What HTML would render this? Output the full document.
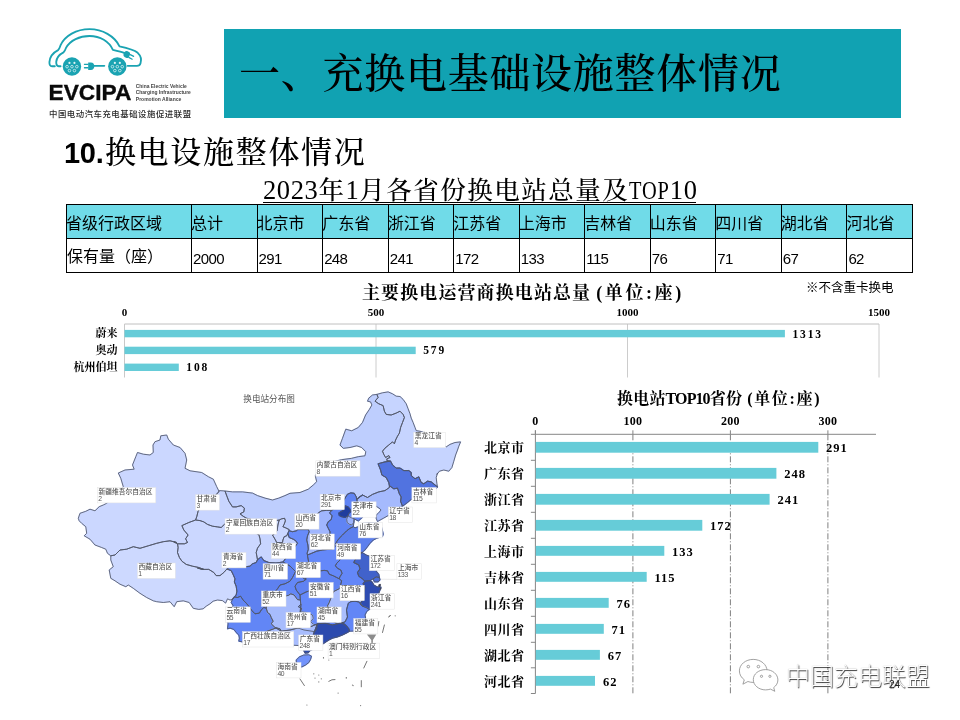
<!DOCTYPE html>
<html lang="zh-CN">
<head>
<meta charset="utf-8">
<title>一、充换电基础设施整体情况</title>
<style>
*{margin:0;padding:0;box-sizing:border-box}
html,body{width:960px;height:720px;background:#fff;overflow:hidden}
body{position:relative;font-family:"Liberation Sans","Noto Sans CJK SC",sans-serif;color:#000}
.abs{position:absolute;white-space:nowrap;line-height:1}
.serif{font-family:"Liberation Serif","Noto Serif CJK SC",serif}
.sans{font-family:"Liberation Sans","Noto Sans CJK SC",sans-serif}
#banner{left:224px;top:29px;width:677px;height:89px;background:#11a2b2}
#title{left:239px;top:54px;font-size:41px;letter-spacing:0.73px;line-height:41px;font-weight:500}
#sub{left:64px;top:135px;font-size:31px;line-height:36px;letter-spacing:1.7px;font-weight:500}
#sub b{font-family:"Liberation Sans",sans-serif;font-weight:700;letter-spacing:-0.3px;font-size:29px;margin-right:1.5px}
#ttitle{left:263px;top:177px;font-size:25.5px;line-height:27px;letter-spacing:1.5px;font-weight:500;height:26px;border-bottom:1px solid #000;width:433px;overflow:visible}
#ttitle span.u{display:inline-block}
#ttitle em{font-style:normal;font-size:26.5px;letter-spacing:0.6px}
#ttitle i{font-style:normal;display:inline-block;transform:scaleX(.8);transform-origin:0 50%;margin-right:-10.2px;letter-spacing:1px}
table{position:absolute;left:66px;top:204px;border-collapse:separate;border-spacing:0;table-layout:fixed;width:847px;border-right:1px solid #000;border-bottom:1px solid #000}
td{border-left:1px solid #000;border-top:1px solid #000;height:34px;font-size:16px;font-weight:400;padding:4px 0 0 0;vertical-align:middle;white-space:nowrap;overflow:hidden;line-height:20px;text-indent:-1px}
tr.h td{background:#70dbe8}
tr.d td{font-size:15px;letter-spacing:-0.6px;padding-left:1px;padding-top:7px;text-indent:0;font-weight:400}
tr.d td:first-child{font-size:16px;letter-spacing:0;padding-top:3px;padding-left:0;text-indent:0}
#note{left:806px;top:281px;font-size:12.5px;line-height:14px}
#c1title{left:362px;top:283px;font-size:18px;font-weight:700;line-height:20px;letter-spacing:1.1px}
#c1title span{letter-spacing:2.6px;margin-left:5px}
#c2title span{letter-spacing:1.7px;margin-left:5px}
#c2title i{font-style:normal;letter-spacing:-0.9px}
#c2title{left:617px;top:389px;font-size:16px;font-weight:700;line-height:20px;letter-spacing:0.2px}
svg text{font-family:"Liberation Serif","Noto Serif CJK SC",serif;font-weight:700}
svg text.ml{font-family:"Liberation Sans","Noto Sans CJK SC",sans-serif;font-weight:500;font-size:6.75px;fill:#555}
#logo text{font-family:"Liberation Sans","Noto Sans CJK SC",sans-serif}
#wm{left:786px;top:661px;font-size:24px;font-weight:300;line-height:32px;color:#fff;letter-spacing:0px;text-shadow:0.8px 0.8px 0.8px rgba(0,0,0,.75),0 0 1px rgba(0,0,0,.35)}
#pg{left:889px;top:680px;font-size:10px;color:#222}
</style>
</head>
<body>
<!-- LOGO -->
<svg id="logo" class="abs" style="left:40px;top:24px" width="160" height="100" viewBox="40 24 160 100">
<g transform="translate(44,24) scale(0.108333)">
<g fill="none" stroke="#1aa3b2" stroke-width="17" stroke-linecap="round" stroke-linejoin="round">
<path d="M100,390 L74,390 C56,390 49,375 50,352 C53,300 90,262 130,241 C141,234 146,215 152,198 C192,108 300,48 420,48 C540,48 650,110 697,206 C760,219 830,236 865,266 C890,290 901,330 891,362 C886,380 875,386 858,386 L772,386"/>
<path d="M153,390 L136,390 C119,390 112,372 113,350 C116,310 145,280 180,262 C191,255 196,240 203,221 C240,150 330,111 420,111 C520,111 600,160 636,238 C680,248 715,256 745,268"/>
<path d="M462,386 L558,386" stroke-width="15"/>
</g>
<circle cx="258" cy="393" r="85" fill="#1aa3b2"/>
<circle cx="235" cy="359" r="10" fill="#dff3f5"/>
<circle cx="281" cy="359" r="10" fill="#dff3f5"/>
<circle cx="213" cy="394" r="12" fill="none" stroke="#dff3f5" stroke-width="7"/>
<circle cx="258" cy="394" r="12" fill="none" stroke="#dff3f5" stroke-width="7"/>
<circle cx="303" cy="394" r="12" fill="none" stroke="#dff3f5" stroke-width="7"/>
<circle cx="235" cy="430" r="12" fill="none" stroke="#dff3f5" stroke-width="7"/>
<circle cx="281" cy="430" r="12" fill="none" stroke="#dff3f5" stroke-width="7"/>
<circle cx="677" cy="393" r="85" fill="#1aa3b2"/>
<circle cx="654" cy="359" r="10" fill="#dff3f5"/>
<circle cx="700" cy="359" r="10" fill="#dff3f5"/>
<circle cx="632" cy="394" r="12" fill="none" stroke="#dff3f5" stroke-width="7"/>
<circle cx="677" cy="394" r="12" fill="none" stroke="#dff3f5" stroke-width="7"/>
<circle cx="722" cy="394" r="12" fill="none" stroke="#dff3f5" stroke-width="7"/>
<circle cx="654" cy="430" r="12" fill="none" stroke="#dff3f5" stroke-width="7"/>
<circle cx="700" cy="430" r="12" fill="none" stroke="#dff3f5" stroke-width="7"/>
<path d="M408,356 L432,356 C455,356 464,372 464,390 C464,408 455,424 432,424 L408,424 Z" fill="#1aa3b2"/>
<rect x="368" y="366" width="44" height="12" rx="4" fill="#1aa3b2"/>
<rect x="368" y="398" width="44" height="12" rx="4" fill="#1aa3b2"/>
<g transform="translate(768,284) rotate(28)" fill="#1aa3b2"><path d="M-8,-30 L4,-30 C20,-30 24,-14 24,0 C24,14 20,30 4,30 L-8,30 C-28,30 -34,14 -34,0 C-34,-14 -28,-30 -8,-30 Z"/><rect x="20" y="-21" width="44" height="12" rx="4"/><rect x="20" y="9" width="44" height="12" rx="4"/></g>
</g>
<text x="48.6" y="99.9" style="font-size:21.6px;font-weight:700" fill="#0a0a0a" stroke="#0a0a0a" stroke-width=".35" textLength="82.8" lengthAdjust="spacingAndGlyphs">EVCIPA</text>
<text x="135.8" y="88.00" style="font-size:5.5px;font-weight:700" fill="#444" textLength="51" lengthAdjust="spacingAndGlyphs">China Electric Vehicle</text>
<text x="135.8" y="94.25" style="font-size:5.5px;font-weight:700" fill="#444" textLength="55" lengthAdjust="spacingAndGlyphs">Charging Infrastructure</text>
<text x="135.8" y="100.50" style="font-size:5.5px;font-weight:700" fill="#444" textLength="45.5" lengthAdjust="spacingAndGlyphs">Promotion Alliance</text>
<text x="49" y="116.6" style="font-size:8.4px;font-weight:500" fill="#2a2a2a" textLength="142" lengthAdjust="spacing">中国电动汽车充电基础设施促进联盟</text>
</svg>

<div id="banner" class="abs"></div>
<div id="title" class="abs serif">一、充换电基础设施整体情况</div>
<div id="sub" class="abs serif"><b>10.</b>换电设施整体情况</div>
<div id="ttitle" class="abs serif"><span class="u"><em>2023</em>年<em>1</em>月各省份换电站总量及<i>TOP</i><em>10</em></span></div>

<table class="sans">
<colgroup><col style="width:125px"><col style="width:65.5px"><col style="width:65.5px"><col style="width:65.5px"><col style="width:65.5px"><col style="width:65.5px"><col style="width:65.5px"><col style="width:65.5px"><col style="width:65.5px"><col style="width:65.5px"><col style="width:65.5px"><col style="width:65.5px"></colgroup>
<tr class="h"><td>省级行政区域</td><td>总计</td><td>北京市</td><td>广东省</td><td>浙江省</td><td>江苏省</td><td>上海市</td><td>吉林省</td><td>山东省</td><td>四川省</td><td>湖北省</td><td>河北省</td></tr>
<tr class="d"><td>保有量（座）</td><td>2000</td><td>291</td><td>248</td><td>241</td><td>172</td><td>133</td><td>115</td><td>76</td><td>71</td><td>67</td><td>62</td></tr>
</table>

<div id="c1title" class="abs serif">主要换电运营商换电站总量<span>(单位:座)</span></div>
<div id="note" class="abs sans">※不含重卡换电</div>

<!-- CHART1 -->
<svg class="abs" style="left:0;top:300px" width="960" height="90" viewBox="0 300 960 90">
<line x1="376.0" y1="324.0" x2="376.0" y2="377.5" stroke="#cccccc" stroke-width="1"/>
<line x1="627.5" y1="324.0" x2="627.5" y2="377.5" stroke="#cccccc" stroke-width="1"/>
<line x1="879.0" y1="324.0" x2="879.0" y2="377.5" stroke="#cccccc" stroke-width="1"/>
<line x1="124.5" y1="324.0" x2="879.0" y2="324.0" stroke="#c0c0c0" stroke-width="1"/>
<line x1="124.5" y1="324.0" x2="124.5" y2="377.5" stroke="#c8c8c8" stroke-width="1"/>
<text x="124.5" y="316" font-size="11" text-anchor="middle">0</text>
<text x="376.0" y="316" font-size="11" text-anchor="middle">500</text>
<text x="627.5" y="316" font-size="11" text-anchor="middle">1000</text>
<text x="879.0" y="316" font-size="11" text-anchor="middle">1500</text>
<rect x="124.5" y="329.9" width="660.4" height="7.4" fill="#66ccd8"/>
<text x="117.5" y="337.4" font-size="11" text-anchor="end">蔚来</text>
<text x="792.4" y="337.6" font-size="11.5" letter-spacing="1.9">1313</text>
<rect x="124.5" y="346.7" width="291.2" height="7.4" fill="#66ccd8"/>
<text x="117.5" y="354.2" font-size="11" text-anchor="end">奥动</text>
<text x="423.2" y="354.4" font-size="11.5" letter-spacing="1.9">579</text>
<rect x="124.5" y="363.6" width="54.3" height="7.4" fill="#66ccd8"/>
<text x="117.5" y="371.1" font-size="11" text-anchor="end">杭州伯坦</text>
<text x="186.3" y="371.3" font-size="11.5" letter-spacing="1.9">108</text>
</svg>

<!-- MAP -->
<svg id="map" class="abs" style="left:60px;top:380px" width="420" height="340" viewBox="60 380 420 340">
<path d="M286,564L300,564L300,575L286,575Z M284,590L300,590L300,600L284,600Z M300,545L340,545L340,560L300,560Z" fill="#6286f6"/>
<path d="M379.5,579.2L397,579.4" stroke="#dcdcdc" stroke-width="0.6" fill="none"/>
<g stroke-width="1.2" stroke-linejoin="round">
<path d="M110.8,555.8L107.5,553.3L105.8,549.2L101.7,547.5L95.0,545.0L90.0,539.2L84.2,535.8L86.7,533.3L85.8,526.7L81.7,523.3L79.2,520.8L78.3,518.3L80.0,513.3L85.8,511.3L90.0,509.2L95.0,510.8L99.2,506.7L103.3,505.0L106.7,503.3L111.7,499.2L118.3,493.3L123.3,486.7L120.8,478.3L118.3,473.0L125.0,470.0L134.2,469.2L132.5,465.0L135.8,456.7L137.5,452.5L143.3,454.2L150.0,455.0L153.3,452.5L153.0,445.0L155.0,441.7L160.0,440.0L160.8,435.8L166.7,435.0L168.3,439.2L173.3,445.0L180.0,447.5L185.0,453.3L186.7,460.0L185.0,468.3L190.0,470.8L201.7,472.5L208.3,476.7L213.3,479.2L216.7,486.7L219.2,491.7L217.5,493.1L212.5,498.8L205.0,505.0L199.4,509.4L198.1,511.2L196.9,516.2L195.6,520.0L188.8,522.5L181.9,525.6L183.8,530.0L188.1,535.0L185.6,538.8L187.5,542.5L184.4,543.8L177.5,543.8L173.8,541.9L176.7,542.5L170.0,540.8L163.3,541.7L156.7,543.3L148.3,545.8L140.0,548.3L133.3,546.7L126.7,549.2L120.0,550.0L115.0,555.0L110.8,555.8Z" fill="#cbd7ff" stroke="#cbd7ff"/>
<path d="M110.8,555.8L110.8,560.0L113.3,566.7L109.2,570.0L110.8,578.3L115.0,580.8L120.0,584.2L125.8,586.7L128.3,585.0L133.3,588.3L140.0,593.3L146.7,597.5L153.3,600.8L156.7,601.7L163.3,602.5L170.0,601.7L174.2,606.7L176.7,601.7L183.3,600.8L189.2,602.5L193.3,608.3L198.8,609.4L203.1,608.8L206.2,606.2L210.0,603.8L213.1,601.2L217.5,600.0L222.5,600.6L225.6,603.1L227.5,598.8L230.0,600.0L232.5,599.4L234.4,596.9L236.2,595.0L236.9,591.2L236.2,586.2L234.4,581.9L235.0,578.8L233.1,574.4L231.2,570.6L226.9,569.0L223.8,572.5L220.0,575.6L216.2,575.6L213.8,572.5L208.8,569.4L202.5,569.4L197.5,568.1L203.8,569.4L198.8,567.5L192.5,566.2L186.2,564.4L181.9,561.2L179.4,557.5L177.5,552.5L178.1,547.5L177.5,543.8L173.8,541.9L176.7,542.5L170.0,540.8L163.3,541.7L156.7,543.3L148.3,545.8L140.0,548.3L133.3,546.7L126.7,549.2L120.0,550.0L115.0,555.0L110.8,555.8Z" fill="#cdd9ff" stroke="#cdd9ff"/>
<path d="M177.5,543.8L184.4,543.8L187.5,542.5L185.6,538.8L188.1,535.0L183.8,530.0L181.9,525.6L188.8,522.5L195.6,520.0L200.0,520.6L203.8,521.9L207.5,524.4L212.5,526.2L217.5,526.9L221.2,527.5L225.0,523.8L237.5,527.5L250.0,531.2L258.8,534.4L260.0,538.8L260.6,543.8L257.5,548.1L256.2,552.5L257.5,559.8L256.2,562.5L252.5,563.8L250.0,566.2L245.0,566.9L240.0,567.5L235.0,566.2L230.0,566.9L226.9,569.0L223.8,572.5L220.0,575.6L216.2,575.6L213.8,572.5L208.8,569.4L202.5,569.4L197.5,568.1L203.8,569.4L198.8,567.5L192.5,566.2L186.2,564.4L181.9,561.2L179.4,557.5L177.5,552.5L178.1,547.5L177.5,543.8Z" fill="#cbd7ff" stroke="#cbd7ff"/>
<path d="M219.4,490.6L225.0,491.0L226.9,496.2L228.8,501.2L232.5,506.9L236.2,506.9L241.2,505.6L244.4,508.1L243.8,511.9L240.0,513.8L243.1,516.2L246.2,518.1L257.5,521.2L270.0,521.9L279.2,520.0L277.9,525.0L277.1,530.8L275.0,533.3L272.5,535.0L275.0,539.2L276.7,542.5L282.5,542.5L282.9,540.0L284.2,536.7L286.7,535.8L287.9,533.3L289.2,537.5L293.3,539.2L295.8,540.8L297.5,543.3L294.0,548.0L290.0,553.0L286.0,558.0L283.0,562.0L276.0,563.0L268.8,562.5L263.8,560.6L261.2,556.9L257.5,559.8L256.2,552.5L257.5,548.1L260.6,543.8L260.0,538.8L258.8,534.4L250.0,531.2L237.5,527.5L225.0,523.8L221.2,527.5L217.5,526.9L212.5,526.2L207.5,524.4L203.8,521.9L200.0,520.6L195.6,520.0L196.9,516.2L198.1,511.2L199.4,509.4L205.0,505.0L212.5,498.8L217.5,493.1L219.4,490.6Z" fill="#c8d5ff" stroke="#c8d5ff"/>
<path d="M225.0,491.0L232.5,491.9L242.5,491.9L252.5,493.1L257.5,495.6L265.0,498.1L272.5,500.0L278.8,498.1L285.0,495.6L290.0,493.3L300.0,492.5L308.3,489.2L313.3,485.0L316.7,481.7L315.3,475.8L320.0,468.3L330.0,462.5L341.7,459.7L351.7,458.3L358.3,456.7L365.0,455.8L365.8,451.7L361.7,447.5L356.7,445.8L350.0,447.5L343.3,448.3L340.0,445.0L342.5,438.3L345.8,429.2L351.7,430.8L358.3,427.5L362.5,422.5L365.6,415.0L369.4,409.4L371.9,405.0L370.6,401.9L367.5,401.2L368.8,398.1L372.5,395.0L376.9,394.4L378.1,397.5L375.0,401.2L378.8,403.8L383.1,405.6L384.4,411.2L386.2,414.4L391.2,415.0L396.2,413.1L400.0,411.2L403.1,414.4L404.4,417.5L402.5,422.5L400.6,427.5L399.4,433.1L397.5,436.2L395.6,440.0L394.4,443.8L392.5,441.9L388.8,445.0L385.0,448.1L382.5,451.2L383.8,454.4L385.6,457.5L388.8,455.6L390.0,457.5L386.9,458.8L386.9,460.6L390.6,461.2L385.0,461.9L380.6,463.1L378.1,463.8L380.6,470.0L381.9,475.0L386.2,477.5L388.8,482.5L389.4,485.6L389.4,487.5L385.0,490.6L378.8,491.9L372.5,494.4L367.5,497.5L362.5,495.0L360.0,496.7L356.8,499.3L356.2,496.7L354.2,493.3L350.8,492.9L347.5,494.2L345.0,498.3L342.5,502.5L336.7,506.7L331.7,510.4L326.7,510.4L321.7,510.8L318.3,512.9L313.3,520.8L308.3,529.6L297.5,529.6L296.7,530.8L292.5,531.7L289.2,530.8L289.2,529.6L285.8,527.9L282.9,526.7L284.2,524.2L285.4,520.8L284.6,518.3L281.7,518.8L279.2,520.0L270.0,521.9L257.5,521.2L246.2,518.1L243.1,516.2L240.0,513.8L243.8,511.9L244.4,508.1L241.2,505.6L236.2,506.9L232.5,506.9L228.8,501.2L226.9,496.2L225.0,491.0Z" fill="#becefe" stroke="#becefe"/>
<path d="M376.9,394.4L382.5,392.8L388.1,391.9L392.5,393.8L396.2,396.2L400.0,396.5L403.1,399.4L406.2,403.8L408.1,408.8L410.0,413.8L411.2,418.1L413.1,422.5L415.0,427.5L416.2,430.6L421.2,431.5L430.0,435.0L437.5,441.2L446.2,446.9L450.0,444.4L455.0,442.5L460.6,441.9L458.8,446.2L457.5,450.0L455.6,455.0L453.8,461.2L451.9,467.5L448.8,471.2L443.8,470.0L439.4,471.2L436.9,474.4L437.5,473.1L436.2,477.5L436.9,483.8L437.5,486.9L435.0,485.0L431.2,481.9L427.5,481.2L423.8,483.8L421.2,482.5L418.8,476.9L415.0,478.8L411.2,475.6L411.2,472.5L408.8,470.6L403.8,470.6L400.0,468.1L396.2,468.1L392.5,465.0L390.6,461.2L386.9,460.6L386.9,458.8L390.0,457.5L388.8,455.6L385.6,457.5L383.8,454.4L382.5,451.2L385.0,448.1L388.8,445.0L392.5,441.9L394.4,443.8L395.6,440.0L397.5,436.2L399.4,433.1L400.6,427.5L402.5,422.5L404.4,417.5L403.1,414.4L400.0,411.2L396.2,413.1L391.2,415.0L386.2,414.4L384.4,411.2L383.1,405.6L378.8,403.8L375.0,401.2L378.1,397.5L376.9,394.4Z" fill="#c6d4ff" stroke="#c6d4ff"/>
<path d="M279.2,520.0L281.7,518.8L284.6,518.3L285.4,520.8L284.2,524.2L282.9,526.7L285.8,527.9L289.2,529.6L287.9,533.3L286.7,535.8L284.2,536.7L282.9,540.0L282.5,542.5L276.7,542.5L275.0,539.2L272.5,535.0L275.0,533.3L277.1,530.8L277.9,525.0Z" fill="#cbd7ff" stroke="#cbd7ff"/>
<path d="M362.5,495.0L367.5,497.5L372.5,494.4L378.8,491.9L385.0,490.6L389.4,487.5L389.4,485.6L393.8,488.8L397.5,488.1L399.4,493.8L401.2,496.9L400.6,501.2L402.5,506.2L397.5,510.0L392.5,513.1L388.1,515.6L383.3,518.3L377.5,521.5L376.2,518.3L376.2,515.0L378.3,513.3L381.0,510.0L380.0,508.8L376.2,506.2L370.0,505.8L363.3,504.2L357.5,502.5L356.8,499.3L360.0,496.7L362.5,495.0Z" fill="#a5bafd" stroke="#a5bafd"/>
<path d="M390.6,461.2L392.5,465.0L396.2,468.1L400.0,468.1L403.8,470.6L408.8,470.6L411.2,472.5L411.2,475.6L415.0,478.8L418.8,476.9L421.2,482.5L423.8,483.8L427.5,481.2L431.2,481.9L435.0,485.0L437.5,486.9L430.0,495.0L420.0,498.1L411.2,499.4L407.5,502.5L402.5,506.2L400.6,501.2L401.2,496.9L399.4,493.8L397.5,488.1L393.8,488.8L389.4,485.6L388.8,482.5L386.2,477.5L381.9,475.0L380.6,470.0L378.1,463.8L380.6,463.1L385.0,461.9L390.6,461.2Z" fill="#5173e0" stroke="#5173e0"/>
<path d="M331.7,510.4L326.7,510.4L321.7,510.8L318.3,512.9L313.3,520.8L308.3,529.6L309.2,531.7L307.5,535.8L306.7,540.0L307.9,545.0L308.3,549.2L307.1,553.3L307.5,555.0L311.7,553.3L316.7,551.2L322.5,550.0L327.5,543.3L330.0,534.2L330.0,531.7L328.3,528.3L326.7,525.0L328.3,521.7L331.2,519.6L332.1,515.8L329.6,512.9L331.7,510.4Z" fill="#a0b6fd" stroke="#a0b6fd"/>
<path d="M289.2,530.8L292.5,531.7L296.7,530.8L297.5,529.6L308.3,529.6L308.3,529.6L309.2,531.7L307.5,535.8L306.7,540.0L307.9,545.0L308.3,549.2L307.1,553.3L307.5,555.0L308.3,560.0L310.0,568.3L306.7,570.8L301.7,571.7L295.5,571.5L290.0,566.0L283.0,562.0L286.0,558.0L290.0,553.0L294.0,548.0L297.5,543.3L295.8,540.8L293.3,539.2L289.2,537.5L287.9,533.3Z" fill="#678bfa" stroke="#678bfa"/>
<path d="M331.7,510.4L336.7,506.7L342.5,502.5L345.0,498.3L347.5,494.2L350.8,492.9L354.2,493.3L356.2,496.7L356.8,499.3L360.0,496.7L362.5,495.0L360.0,496.7L356.8,499.3L357.5,506.7L360.0,515.0L362.5,517.3L358.3,521.0L354.2,518.8L353.8,522.5L353.3,526.7L350.0,528.3L346.7,530.8L342.5,535.0L339.2,538.3L336.7,541.7L332.0,549.0L322.5,550.0L327.5,543.3L330.0,534.2L330.0,531.7L328.3,528.3L326.7,525.0L328.3,521.7L331.2,519.6L332.1,515.8L329.6,512.9L331.7,510.4Z" fill="#6084f4" stroke="#6084f4"/>
<path d="M347.9,515.8L350.8,517.5L354.2,518.8L353.8,522.5L351.7,525.0L349.2,524.2L347.1,522.5L346.7,519.2Z" fill="#9bb3fd" stroke="#9bb3fd"/>
<path d="M345.0,505.8L347.9,506.7L350.0,509.2L350.8,511.7L348.8,513.3L347.9,515.8L345.0,517.5L341.7,516.7L339.2,515.4L338.8,512.9L340.8,511.7L343.3,510.4L344.6,507.9Z" fill="#203d9e" stroke="#203d9e"/>
<path d="M353.3,526.7L355.0,527.9L358.3,526.7L363.3,523.3L370.0,522.9L376.7,523.3L381.2,525.8L382.7,531.7L383.2,534.2L382.5,536.5L376.7,538.3L373.3,540.0L370.0,543.3L367.5,546.7L365.0,550.0L361.9,552.5L356.2,553.1L351.2,554.4L346.2,552.5L341.2,551.2L337.0,545.0L336.7,541.7L339.2,538.3L342.5,535.0L346.7,530.8L350.0,528.3L353.3,526.7Z" fill="#5c7fee" stroke="#5c7fee"/>
<path d="M307.5,555.0L311.7,553.3L316.7,551.2L322.5,550.0L332.0,549.0L337.0,545.0L341.2,551.2L340.0,560.0L336.7,563.3L335.4,565.8L337.5,568.3L340.8,570.0L342.1,573.3L340.0,576.7L339.2,578.8L336.7,577.5L333.3,575.8L329.2,574.2L327.5,570.8L324.2,570.4L320.8,570.8L315.0,569.6L310.0,568.3L308.3,560.0L307.5,556.7Z" fill="#6488f9" stroke="#6488f9"/>
<path d="M295.5,571.5L301.7,571.7L306.7,570.8L310.0,568.3L315.0,569.6L320.8,570.8L324.2,570.4L327.5,570.8L329.2,574.2L333.3,575.8L336.7,577.5L339.2,578.8L341.7,580.8L340.8,584.2L340.0,588.3L333.3,591.7L328.0,590.0L320.0,592.0L312.0,590.0L306.0,592.0L300.0,595.0L296.2,590.0L295.0,586.2L297.5,582.5L303.8,581.2L306.2,578.8L305.4,578.3L305.8,580.0Z" fill="#5f82f2" stroke="#5f82f2"/>
<path d="M226.9,569.0L231.2,570.6L233.1,574.4L235.0,578.8L234.4,581.9L236.2,586.2L236.9,591.2L236.2,595.0L234.4,596.9L232.5,599.4L234.4,596.9L237.5,597.5L240.6,596.2L243.1,600.0L246.2,603.1L249.4,606.9L251.9,610.6L255.0,613.8L259.4,613.1L261.2,610.0L263.8,607.5L266.2,608.1L267.5,602.5L270.0,597.5L277.5,588.8L280.0,585.0L285.0,583.8L290.0,581.2L292.5,577.5L295.5,571.5L290.0,566.0L283.0,562.0L276.0,563.0L268.8,562.5L263.8,560.6L261.2,556.9L257.5,559.8L256.2,562.5L252.5,563.8L250.0,566.2L245.0,566.9L240.0,567.5L235.0,566.2L230.0,566.9L226.9,569.0Z" fill="#5e81f0" stroke="#5e81f0"/>
<path d="M295.5,571.5L292.5,577.5L290.0,581.2L285.0,583.8L280.0,585.0L277.5,588.8L270.0,597.5L276.2,594.4L286.2,595.8L288.3,595.4L290.8,593.8L294.2,595.0L297.5,599.6L300.4,600.0L300.0,595.0L296.2,590.0L295.0,586.2L297.5,582.5L303.8,581.2L306.2,578.8L305.4,578.3L305.8,580.0Z" fill="#6387f7" stroke="#6387f7"/>
<path d="M232.5,599.4L234.4,596.9L237.5,597.5L240.6,596.2L243.1,600.0L246.2,603.1L249.4,606.9L251.9,610.6L255.0,613.8L259.4,613.1L261.2,610.0L263.8,607.5L266.2,608.1L267.5,612.5L270.0,614.4L271.2,617.5L273.1,621.2L271.2,623.8L275.0,627.5L280.0,628.8L281.2,631.2L276.0,628.0L265.0,632.0L258.0,636.0L262.0,640.0L262.5,645.0L255.0,645.5L250.0,645.0L242.5,641.9L238.8,641.2L239.4,638.1L238.8,635.0L236.2,632.5L233.8,629.4L230.0,628.1L227.5,628.8L228.1,623.8L227.5,618.8L230.0,612.5L233.1,605.6L231.2,602.5Z" fill="#6286f6" stroke="#6286f6"/>
<path d="M276.0,628.0L281.2,631.2L290.0,630.0L298.0,628.0L304.0,626.0L310.0,627.0L317.5,623.8L315.6,628.8L314.1,632.5L312.5,637.5L308.8,642.5L305.6,646.9L298.0,645.5L290.0,645.0L280.0,644.5L270.0,644.0L262.0,640.0L258.0,636.0L265.0,632.0Z" fill="#a7bcfd" stroke="#a7bcfd"/>
<path d="M301.0,604.0L300.0,612.0L302.0,622.0L298.0,628.0L304.0,626.0L310.0,627.0L317.5,623.8L325.0,623.1L332.5,625.0L337.5,623.8L332.0,621.0L329.0,615.0L327.5,605.8L329.2,602.5L330.8,598.3L333.3,591.7L328.0,590.0L320.0,592.0L312.0,590.0L306.0,592.0L300.0,595.0L300.4,600.0L300.8,604.2L298.3,606.7L301.7,608.3L300.4,611.7Z" fill="#6589fa" stroke="#6589fa"/>
<path d="M266.2,608.1L267.5,612.5L270.0,614.4L271.2,617.5L273.1,621.2L271.2,623.8L275.0,627.5L280.0,628.8L281.2,631.2L290.0,630.0L298.0,628.0L304.0,630.0L315.0,631.7L317.1,628.3L316.7,625.0L313.3,624.2L310.8,621.7L313.3,618.3L312.5,615.0L306.7,612.5L300.4,611.7L301.7,608.3L298.3,606.7L300.8,604.2L300.4,600.0L297.5,599.6L294.2,595.0L290.8,593.8L288.3,595.4L286.2,595.8L276.2,594.4L270.0,597.5L267.5,602.5Z" fill="#a7bcfd" stroke="#a7bcfd"/>
<path d="M340.0,588.3L333.3,591.7L330.8,598.3L329.2,602.5L327.5,605.8L329.0,615.0L332.0,621.0L337.5,623.8L341.0,623.0L345.0,622.0L347.5,617.0L346.5,610.0L348.3,603.3L350.8,601.7L355.0,601.2L359.2,602.1L362.5,606.2L360.0,603.8L361.9,601.2L364.4,597.5L363.8,592.5L358.0,589.0L350.0,586.0L345.0,588.0Z" fill="#aabefd" stroke="#aabefd"/>
<path d="M339.2,578.8L340.0,576.7L342.1,573.3L340.8,570.0L337.5,568.3L335.4,565.8L336.7,563.3L340.0,560.0L341.2,551.2L346.2,552.5L351.2,554.4L356.2,553.1L361.9,552.5L355.0,560.0L353.8,562.5L358.8,565.0L360.0,568.8L357.5,572.5L358.8,576.2L362.5,578.8L365.0,581.2L363.1,583.8L365.0,587.5L363.8,592.5L358.0,589.0L350.0,586.0L345.0,588.0L340.0,588.3L340.8,584.2L341.7,580.8Z" fill="#6387f8" stroke="#6387f8"/>
<path d="M361.9,552.5L366.2,555.0L369.4,556.2L375.0,561.2L377.5,567.5L376.2,571.2L378.8,574.4L379.4,577.5L376.2,576.9L373.1,578.8L370.0,580.6L365.0,581.2L362.5,578.8L358.8,576.2L357.5,572.5L360.0,568.8L358.8,565.0L353.8,562.5L355.0,560.0L361.9,552.5Z" fill="#4162cb" stroke="#4162cb"/>
<path d="M365.0,581.2L370.0,580.6L372.2,582.0L373.8,585.0L376.9,586.8L381.0,587.0L380.0,590.0L378.8,593.1L377.5,598.8L373.8,605.0L369.4,609.4L366.2,607.5L362.5,606.2L360.0,603.8L361.9,601.2L364.4,597.5L363.8,592.5L365.0,587.5L363.1,583.8L365.0,581.2Z" fill="#2e4cb1" stroke="#2e4cb1"/>
<path d="M373.1,578.8L376.2,576.9L379.4,577.5L380.0,580.0L378.1,581.9L374.4,581.9Z" fill="#4c6ed9" stroke="#4c6ed9"/>
<path d="M359.2,602.1L355.0,601.2L350.8,601.7L348.3,603.3L346.5,610.0L347.5,617.0L345.0,622.0L341.0,623.0L346.2,625.6L348.8,628.8L349.4,631.2L355.0,631.0L360.0,627.0L364.0,622.0L365.6,618.1L365.0,615.0L366.9,611.2L369.4,609.4L366.2,607.5L362.5,606.2Z" fill="#6286f6" stroke="#6286f6"/>
<path d="M317.5,623.8L325.0,623.1L332.5,625.0L337.5,623.8L342.5,622.5L346.2,625.6L348.8,628.8L349.4,631.2L347.5,632.5L342.5,635.0L337.5,636.9L332.5,638.1L328.8,640.0L325.0,642.5L321.2,645.0L315.0,648.1L310.0,650.6L308.1,652.8L305.0,653.1L303.8,650.6L305.6,646.9L308.8,642.5L312.5,637.5L314.1,632.5L315.6,628.8Z" fill="#2c4aae" stroke="#2c4aae"/>
<path d="M296.2,660.0L299.4,656.9L303.8,655.0L308.8,654.8L311.5,656.2L310.6,659.4L308.8,662.5L305.6,665.0L301.9,666.9L298.1,666.5L296.5,663.8Z" fill="#7192fb" stroke="#7192fb"/>
</g>
<g stroke="#505668" stroke-width="0.85" stroke-linejoin="round" fill="none">
<path d="M110.8,555.8L107.5,553.3L105.8,549.2L101.7,547.5L95.0,545.0L90.0,539.2L84.2,535.8L86.7,533.3L85.8,526.7L81.7,523.3L79.2,520.8L78.3,518.3L80.0,513.3L85.8,511.3L90.0,509.2L95.0,510.8L99.2,506.7L103.3,505.0L106.7,503.3L111.7,499.2L118.3,493.3L123.3,486.7L120.8,478.3L118.3,473.0L125.0,470.0L134.2,469.2L132.5,465.0L135.8,456.7L137.5,452.5L143.3,454.2L150.0,455.0L153.3,452.5L153.0,445.0L155.0,441.7L160.0,440.0L160.8,435.8L166.7,435.0L168.3,439.2L173.3,445.0L180.0,447.5L185.0,453.3L186.7,460.0L185.0,468.3L190.0,470.8L201.7,472.5L208.3,476.7L213.3,479.2L216.7,486.7L219.2,491.7L217.5,493.1L212.5,498.8L205.0,505.0L199.4,509.4L198.1,511.2L196.9,516.2L195.6,520.0L188.8,522.5L181.9,525.6L183.8,530.0L188.1,535.0L185.6,538.8L187.5,542.5L184.4,543.8L177.5,543.8L173.8,541.9L176.7,542.5L170.0,540.8L163.3,541.7L156.7,543.3L148.3,545.8L140.0,548.3L133.3,546.7L126.7,549.2L120.0,550.0L115.0,555.0L110.8,555.8Z"/>
<path d="M110.8,555.8L110.8,560.0L113.3,566.7L109.2,570.0L110.8,578.3L115.0,580.8L120.0,584.2L125.8,586.7L128.3,585.0L133.3,588.3L140.0,593.3L146.7,597.5L153.3,600.8L156.7,601.7L163.3,602.5L170.0,601.7L174.2,606.7L176.7,601.7L183.3,600.8L189.2,602.5L193.3,608.3L198.8,609.4L203.1,608.8L206.2,606.2L210.0,603.8L213.1,601.2L217.5,600.0L222.5,600.6L225.6,603.1L227.5,598.8L230.0,600.0L232.5,599.4L234.4,596.9L236.2,595.0L236.9,591.2L236.2,586.2L234.4,581.9L235.0,578.8L233.1,574.4L231.2,570.6L226.9,569.0L223.8,572.5L220.0,575.6L216.2,575.6L213.8,572.5L208.8,569.4L202.5,569.4L197.5,568.1L203.8,569.4L198.8,567.5L192.5,566.2L186.2,564.4L181.9,561.2L179.4,557.5L177.5,552.5L178.1,547.5L177.5,543.8L173.8,541.9L176.7,542.5L170.0,540.8L163.3,541.7L156.7,543.3L148.3,545.8L140.0,548.3L133.3,546.7L126.7,549.2L120.0,550.0L115.0,555.0L110.8,555.8Z"/>
<path d="M177.5,543.8L184.4,543.8L187.5,542.5L185.6,538.8L188.1,535.0L183.8,530.0L181.9,525.6L188.8,522.5L195.6,520.0L200.0,520.6L203.8,521.9L207.5,524.4L212.5,526.2L217.5,526.9L221.2,527.5L225.0,523.8L237.5,527.5L250.0,531.2L258.8,534.4L260.0,538.8L260.6,543.8L257.5,548.1L256.2,552.5L257.5,559.8L256.2,562.5L252.5,563.8L250.0,566.2L245.0,566.9L240.0,567.5L235.0,566.2L230.0,566.9L226.9,569.0L223.8,572.5L220.0,575.6L216.2,575.6L213.8,572.5L208.8,569.4L202.5,569.4L197.5,568.1L203.8,569.4L198.8,567.5L192.5,566.2L186.2,564.4L181.9,561.2L179.4,557.5L177.5,552.5L178.1,547.5L177.5,543.8Z"/>
<path d="M219.4,490.6L225.0,491.0L226.9,496.2L228.8,501.2L232.5,506.9L236.2,506.9L241.2,505.6L244.4,508.1L243.8,511.9L240.0,513.8L243.1,516.2L246.2,518.1L257.5,521.2L270.0,521.9L279.2,520.0L277.9,525.0L277.1,530.8L275.0,533.3L272.5,535.0L275.0,539.2L276.7,542.5L282.5,542.5L282.9,540.0L284.2,536.7L286.7,535.8L287.9,533.3L289.2,537.5L293.3,539.2L295.8,540.8L297.5,543.3L294.0,548.0L290.0,553.0L286.0,558.0L283.0,562.0L276.0,563.0L268.8,562.5L263.8,560.6L261.2,556.9L257.5,559.8L256.2,552.5L257.5,548.1L260.6,543.8L260.0,538.8L258.8,534.4L250.0,531.2L237.5,527.5L225.0,523.8L221.2,527.5L217.5,526.9L212.5,526.2L207.5,524.4L203.8,521.9L200.0,520.6L195.6,520.0L196.9,516.2L198.1,511.2L199.4,509.4L205.0,505.0L212.5,498.8L217.5,493.1L219.4,490.6Z"/>
<path d="M225.0,491.0L232.5,491.9L242.5,491.9L252.5,493.1L257.5,495.6L265.0,498.1L272.5,500.0L278.8,498.1L285.0,495.6L290.0,493.3L300.0,492.5L308.3,489.2L313.3,485.0L316.7,481.7L315.3,475.8L320.0,468.3L330.0,462.5L341.7,459.7L351.7,458.3L358.3,456.7L365.0,455.8L365.8,451.7L361.7,447.5L356.7,445.8L350.0,447.5L343.3,448.3L340.0,445.0L342.5,438.3L345.8,429.2L351.7,430.8L358.3,427.5L362.5,422.5L365.6,415.0L369.4,409.4L371.9,405.0L370.6,401.9L367.5,401.2L368.8,398.1L372.5,395.0L376.9,394.4L378.1,397.5L375.0,401.2L378.8,403.8L383.1,405.6L384.4,411.2L386.2,414.4L391.2,415.0L396.2,413.1L400.0,411.2L403.1,414.4L404.4,417.5L402.5,422.5L400.6,427.5L399.4,433.1L397.5,436.2L395.6,440.0L394.4,443.8L392.5,441.9L388.8,445.0L385.0,448.1L382.5,451.2L383.8,454.4L385.6,457.5L388.8,455.6L390.0,457.5L386.9,458.8L386.9,460.6L390.6,461.2L385.0,461.9L380.6,463.1L378.1,463.8L380.6,470.0L381.9,475.0L386.2,477.5L388.8,482.5L389.4,485.6L389.4,487.5L385.0,490.6L378.8,491.9L372.5,494.4L367.5,497.5L362.5,495.0L360.0,496.7L356.8,499.3L356.2,496.7L354.2,493.3L350.8,492.9L347.5,494.2L345.0,498.3L342.5,502.5L336.7,506.7L331.7,510.4L326.7,510.4L321.7,510.8L318.3,512.9L313.3,520.8L308.3,529.6L297.5,529.6L296.7,530.8L292.5,531.7L289.2,530.8L289.2,529.6L285.8,527.9L282.9,526.7L284.2,524.2L285.4,520.8L284.6,518.3L281.7,518.8L279.2,520.0L270.0,521.9L257.5,521.2L246.2,518.1L243.1,516.2L240.0,513.8L243.8,511.9L244.4,508.1L241.2,505.6L236.2,506.9L232.5,506.9L228.8,501.2L226.9,496.2L225.0,491.0Z"/>
<path d="M376.9,394.4L382.5,392.8L388.1,391.9L392.5,393.8L396.2,396.2L400.0,396.5L403.1,399.4L406.2,403.8L408.1,408.8L410.0,413.8L411.2,418.1L413.1,422.5L415.0,427.5L416.2,430.6L421.2,431.5L430.0,435.0L437.5,441.2L446.2,446.9L450.0,444.4L455.0,442.5L460.6,441.9L458.8,446.2L457.5,450.0L455.6,455.0L453.8,461.2L451.9,467.5L448.8,471.2L443.8,470.0L439.4,471.2L436.9,474.4L437.5,473.1L436.2,477.5L436.9,483.8L437.5,486.9L435.0,485.0L431.2,481.9L427.5,481.2L423.8,483.8L421.2,482.5L418.8,476.9L415.0,478.8L411.2,475.6L411.2,472.5L408.8,470.6L403.8,470.6L400.0,468.1L396.2,468.1L392.5,465.0L390.6,461.2L386.9,460.6L386.9,458.8L390.0,457.5L388.8,455.6L385.6,457.5L383.8,454.4L382.5,451.2L385.0,448.1L388.8,445.0L392.5,441.9L394.4,443.8L395.6,440.0L397.5,436.2L399.4,433.1L400.6,427.5L402.5,422.5L404.4,417.5L403.1,414.4L400.0,411.2L396.2,413.1L391.2,415.0L386.2,414.4L384.4,411.2L383.1,405.6L378.8,403.8L375.0,401.2L378.1,397.5L376.9,394.4Z"/>
<path d="M279.2,520.0L281.7,518.8L284.6,518.3L285.4,520.8L284.2,524.2L282.9,526.7L285.8,527.9L289.2,529.6L287.9,533.3L286.7,535.8L284.2,536.7L282.9,540.0L282.5,542.5L276.7,542.5L275.0,539.2L272.5,535.0L275.0,533.3L277.1,530.8L277.9,525.0Z"/>
<path d="M362.5,495.0L367.5,497.5L372.5,494.4L378.8,491.9L385.0,490.6L389.4,487.5L389.4,485.6L393.8,488.8L397.5,488.1L399.4,493.8L401.2,496.9L400.6,501.2L402.5,506.2L397.5,510.0L392.5,513.1L388.1,515.6L383.3,518.3L377.5,521.5L376.2,518.3L376.2,515.0L378.3,513.3L381.0,510.0L380.0,508.8L376.2,506.2L370.0,505.8L363.3,504.2L357.5,502.5L356.8,499.3L360.0,496.7L362.5,495.0Z"/>
<path d="M390.6,461.2L392.5,465.0L396.2,468.1L400.0,468.1L403.8,470.6L408.8,470.6L411.2,472.5L411.2,475.6L415.0,478.8L418.8,476.9L421.2,482.5L423.8,483.8L427.5,481.2L431.2,481.9L435.0,485.0L437.5,486.9L430.0,495.0L420.0,498.1L411.2,499.4L407.5,502.5L402.5,506.2L400.6,501.2L401.2,496.9L399.4,493.8L397.5,488.1L393.8,488.8L389.4,485.6L388.8,482.5L386.2,477.5L381.9,475.0L380.6,470.0L378.1,463.8L380.6,463.1L385.0,461.9L390.6,461.2Z"/>
<path d="M331.7,510.4L326.7,510.4L321.7,510.8L318.3,512.9L313.3,520.8L308.3,529.6L309.2,531.7L307.5,535.8L306.7,540.0L307.9,545.0L308.3,549.2L307.1,553.3L307.5,555.0L311.7,553.3L316.7,551.2L322.5,550.0L327.5,543.3L330.0,534.2L330.0,531.7L328.3,528.3L326.7,525.0L328.3,521.7L331.2,519.6L332.1,515.8L329.6,512.9L331.7,510.4Z"/>
<path d="M289.2,530.8L292.5,531.7L296.7,530.8L297.5,529.6L308.3,529.6L308.3,529.6L309.2,531.7L307.5,535.8L306.7,540.0L307.9,545.0L308.3,549.2L307.1,553.3L307.5,555.0L308.3,560.0L310.0,568.3L306.7,570.8L301.7,571.7L295.5,571.5L290.0,566.0L283.0,562.0L286.0,558.0L290.0,553.0L294.0,548.0L297.5,543.3L295.8,540.8L293.3,539.2L289.2,537.5L287.9,533.3Z"/>
<path d="M331.7,510.4L336.7,506.7L342.5,502.5L345.0,498.3L347.5,494.2L350.8,492.9L354.2,493.3L356.2,496.7L356.8,499.3L360.0,496.7L362.5,495.0L360.0,496.7L356.8,499.3L357.5,506.7L360.0,515.0L362.5,517.3L358.3,521.0L354.2,518.8L353.8,522.5L353.3,526.7L350.0,528.3L346.7,530.8L342.5,535.0L339.2,538.3L336.7,541.7L332.0,549.0L322.5,550.0L327.5,543.3L330.0,534.2L330.0,531.7L328.3,528.3L326.7,525.0L328.3,521.7L331.2,519.6L332.1,515.8L329.6,512.9L331.7,510.4Z"/>
<path d="M347.9,515.8L350.8,517.5L354.2,518.8L353.8,522.5L351.7,525.0L349.2,524.2L347.1,522.5L346.7,519.2Z"/>
<path d="M345.0,505.8L347.9,506.7L350.0,509.2L350.8,511.7L348.8,513.3L347.9,515.8L345.0,517.5L341.7,516.7L339.2,515.4L338.8,512.9L340.8,511.7L343.3,510.4L344.6,507.9Z"/>
<path d="M353.3,526.7L355.0,527.9L358.3,526.7L363.3,523.3L370.0,522.9L376.7,523.3L381.2,525.8L382.7,531.7L383.2,534.2L382.5,536.5L376.7,538.3L373.3,540.0L370.0,543.3L367.5,546.7L365.0,550.0L361.9,552.5L356.2,553.1L351.2,554.4L346.2,552.5L341.2,551.2L337.0,545.0L336.7,541.7L339.2,538.3L342.5,535.0L346.7,530.8L350.0,528.3L353.3,526.7Z"/>
<path d="M307.5,555.0L311.7,553.3L316.7,551.2L322.5,550.0L332.0,549.0L337.0,545.0L341.2,551.2L340.0,560.0L336.7,563.3L335.4,565.8L337.5,568.3L340.8,570.0L342.1,573.3L340.0,576.7L339.2,578.8L336.7,577.5L333.3,575.8L329.2,574.2L327.5,570.8L324.2,570.4L320.8,570.8L315.0,569.6L310.0,568.3L308.3,560.0L307.5,556.7Z"/>
<path d="M295.5,571.5L301.7,571.7L306.7,570.8L310.0,568.3L315.0,569.6L320.8,570.8L324.2,570.4L327.5,570.8L329.2,574.2L333.3,575.8L336.7,577.5L339.2,578.8L341.7,580.8L340.8,584.2L340.0,588.3L333.3,591.7L328.0,590.0L320.0,592.0L312.0,590.0L306.0,592.0L300.0,595.0L296.2,590.0L295.0,586.2L297.5,582.5L303.8,581.2L306.2,578.8L305.4,578.3L305.8,580.0Z"/>
<path d="M226.9,569.0L231.2,570.6L233.1,574.4L235.0,578.8L234.4,581.9L236.2,586.2L236.9,591.2L236.2,595.0L234.4,596.9L232.5,599.4L234.4,596.9L237.5,597.5L240.6,596.2L243.1,600.0L246.2,603.1L249.4,606.9L251.9,610.6L255.0,613.8L259.4,613.1L261.2,610.0L263.8,607.5L266.2,608.1L267.5,602.5L270.0,597.5L277.5,588.8L280.0,585.0L285.0,583.8L290.0,581.2L292.5,577.5L295.5,571.5L290.0,566.0L283.0,562.0L276.0,563.0L268.8,562.5L263.8,560.6L261.2,556.9L257.5,559.8L256.2,562.5L252.5,563.8L250.0,566.2L245.0,566.9L240.0,567.5L235.0,566.2L230.0,566.9L226.9,569.0Z"/>
<path d="M295.5,571.5L292.5,577.5L290.0,581.2L285.0,583.8L280.0,585.0L277.5,588.8L270.0,597.5L276.2,594.4L286.2,595.8L288.3,595.4L290.8,593.8L294.2,595.0L297.5,599.6L300.4,600.0L300.0,595.0L296.2,590.0L295.0,586.2L297.5,582.5L303.8,581.2L306.2,578.8L305.4,578.3L305.8,580.0Z"/>
<path d="M232.5,599.4L234.4,596.9L237.5,597.5L240.6,596.2L243.1,600.0L246.2,603.1L249.4,606.9L251.9,610.6L255.0,613.8L259.4,613.1L261.2,610.0L263.8,607.5L266.2,608.1L267.5,612.5L270.0,614.4L271.2,617.5L273.1,621.2L271.2,623.8L275.0,627.5L280.0,628.8L281.2,631.2L276.0,628.0L265.0,632.0L258.0,636.0L262.0,640.0L262.5,645.0L255.0,645.5L250.0,645.0L242.5,641.9L238.8,641.2L239.4,638.1L238.8,635.0L236.2,632.5L233.8,629.4L230.0,628.1L227.5,628.8L228.1,623.8L227.5,618.8L230.0,612.5L233.1,605.6L231.2,602.5Z"/>
<path d="M276.0,628.0L281.2,631.2L290.0,630.0L298.0,628.0L304.0,626.0L310.0,627.0L317.5,623.8L315.6,628.8L314.1,632.5L312.5,637.5L308.8,642.5L305.6,646.9L298.0,645.5L290.0,645.0L280.0,644.5L270.0,644.0L262.0,640.0L258.0,636.0L265.0,632.0Z"/>
<path d="M301.0,604.0L300.0,612.0L302.0,622.0L298.0,628.0L304.0,626.0L310.0,627.0L317.5,623.8L325.0,623.1L332.5,625.0L337.5,623.8L332.0,621.0L329.0,615.0L327.5,605.8L329.2,602.5L330.8,598.3L333.3,591.7L328.0,590.0L320.0,592.0L312.0,590.0L306.0,592.0L300.0,595.0L300.4,600.0L300.8,604.2L298.3,606.7L301.7,608.3L300.4,611.7Z"/>
<path d="M266.2,608.1L267.5,612.5L270.0,614.4L271.2,617.5L273.1,621.2L271.2,623.8L275.0,627.5L280.0,628.8L281.2,631.2L290.0,630.0L298.0,628.0L304.0,630.0L315.0,631.7L317.1,628.3L316.7,625.0L313.3,624.2L310.8,621.7L313.3,618.3L312.5,615.0L306.7,612.5L300.4,611.7L301.7,608.3L298.3,606.7L300.8,604.2L300.4,600.0L297.5,599.6L294.2,595.0L290.8,593.8L288.3,595.4L286.2,595.8L276.2,594.4L270.0,597.5L267.5,602.5Z"/>
<path d="M340.0,588.3L333.3,591.7L330.8,598.3L329.2,602.5L327.5,605.8L329.0,615.0L332.0,621.0L337.5,623.8L341.0,623.0L345.0,622.0L347.5,617.0L346.5,610.0L348.3,603.3L350.8,601.7L355.0,601.2L359.2,602.1L362.5,606.2L360.0,603.8L361.9,601.2L364.4,597.5L363.8,592.5L358.0,589.0L350.0,586.0L345.0,588.0Z"/>
<path d="M339.2,578.8L340.0,576.7L342.1,573.3L340.8,570.0L337.5,568.3L335.4,565.8L336.7,563.3L340.0,560.0L341.2,551.2L346.2,552.5L351.2,554.4L356.2,553.1L361.9,552.5L355.0,560.0L353.8,562.5L358.8,565.0L360.0,568.8L357.5,572.5L358.8,576.2L362.5,578.8L365.0,581.2L363.1,583.8L365.0,587.5L363.8,592.5L358.0,589.0L350.0,586.0L345.0,588.0L340.0,588.3L340.8,584.2L341.7,580.8Z"/>
<path d="M361.9,552.5L366.2,555.0L369.4,556.2L375.0,561.2L377.5,567.5L376.2,571.2L378.8,574.4L379.4,577.5L376.2,576.9L373.1,578.8L370.0,580.6L365.0,581.2L362.5,578.8L358.8,576.2L357.5,572.5L360.0,568.8L358.8,565.0L353.8,562.5L355.0,560.0L361.9,552.5Z"/>
<path d="M365.0,581.2L370.0,580.6L372.2,582.0L373.8,585.0L376.9,586.8L381.0,587.0L380.0,590.0L378.8,593.1L377.5,598.8L373.8,605.0L369.4,609.4L366.2,607.5L362.5,606.2L360.0,603.8L361.9,601.2L364.4,597.5L363.8,592.5L365.0,587.5L363.1,583.8L365.0,581.2Z"/>
<path d="M373.1,578.8L376.2,576.9L379.4,577.5L380.0,580.0L378.1,581.9L374.4,581.9Z"/>
<path d="M359.2,602.1L355.0,601.2L350.8,601.7L348.3,603.3L346.5,610.0L347.5,617.0L345.0,622.0L341.0,623.0L346.2,625.6L348.8,628.8L349.4,631.2L355.0,631.0L360.0,627.0L364.0,622.0L365.6,618.1L365.0,615.0L366.9,611.2L369.4,609.4L366.2,607.5L362.5,606.2Z"/>
<path d="M317.5,623.8L325.0,623.1L332.5,625.0L337.5,623.8L342.5,622.5L346.2,625.6L348.8,628.8L349.4,631.2L347.5,632.5L342.5,635.0L337.5,636.9L332.5,638.1L328.8,640.0L325.0,642.5L321.2,645.0L315.0,648.1L310.0,650.6L308.1,652.8L305.0,653.1L303.8,650.6L305.6,646.9L308.8,642.5L312.5,637.5L314.1,632.5L315.6,628.8Z"/>
<path d="M296.2,660.0L299.4,656.9L303.8,655.0L308.8,654.8L311.5,656.2L310.6,659.4L308.8,662.5L305.6,665.0L301.9,666.9L298.1,666.5L296.5,663.8Z"/>
</g>
<path d="M378.6,584.6l1.6,-0.8l0.9,0.9l-0.7,1.7l-1.3,0.9l-0.9,-1.2z M380.6,587.6l1,0.4l-0.5,1.6l-1.1,-0.4z" fill="#3a3f55"/>
<path d="M366.9,634.4L376.3,634.4L372.9,640L372.9,643L371.3,643L371.3,640Z" fill="#8c8c8c"/>
<g stroke="#666" stroke-width="0.9" stroke-linecap="round" fill="none"><path d="M384.4,625L382.5,632.5"/><path d="M378.8,621.5L378.2,626"/><path d="M366.9,661.3L363.8,668"/><path d="M361.3,680.6L361.3,686.8"/><path d="M388.5,617L390.5,615.5"/><path d="M300,679L304.4,685.6"/><path d="M328.8,681.3Q332,679 335,679.5"/></g>
<circle cx="389.5" cy="616.2" r="0.6" fill="#777"/>
<circle cx="395.2" cy="615.8" r="0.6" fill="#777"/>
<circle cx="376.2" cy="644" r="0.6" fill="#777"/>
<circle cx="323.5" cy="657.6" r="0.6" fill="#777"/>
<circle cx="313.8" cy="673.8" r="0.6" fill="#777"/>
<circle cx="318.8" cy="675" r="0.6" fill="#777"/>
<circle cx="315" cy="678.1" r="0.6" fill="#777"/>
<circle cx="321.3" cy="678.8" r="0.6" fill="#777"/>
<circle cx="318.8" cy="681.9" r="0.6" fill="#777"/>
<circle cx="346.3" cy="678.1" r="0.6" fill="#777"/>
<circle cx="353.1" cy="685.6" r="0.6" fill="#777"/>
<circle cx="338.1" cy="693.1" r="0.6" fill="#777"/>
<circle cx="306.9" cy="705" r="0.6" fill="#777"/>
<circle cx="360.6" cy="705.6" r="0.6" fill="#777"/>
<circle cx="323.5" cy="658" r="0.6" fill="#777"/>
<circle cx="328.8" cy="660" r="0.6" fill="#777"/>
<circle cx="346.3" cy="677.5" r="0.6" fill="#777"/>
<circle cx="352.5" cy="685" r="0.6" fill="#777"/>
<text x="243.3" y="402" style="font-family:'Liberation Sans','Noto Sans CJK SC',sans-serif;font-weight:400;font-size:8.6px" fill="#555">换电站分布图</text>
<rect x="97.50" y="487.50" width="58.30" height="15.4" fill="#fff" stroke="#e4e4e4" stroke-width="0.5"/>
<text x="98.50" y="493.50" class="ml">新疆维吾尔自治区</text>
<text x="98.30" y="500.50" class="ml" letter-spacing="-0.35">2</text>
<rect x="195.60" y="494.75" width="23.80" height="15.4" fill="#fff" stroke="#e4e4e4" stroke-width="0.5"/>
<text x="196.60" y="500.75" class="ml">甘肃省</text>
<text x="196.40" y="507.75" class="ml" letter-spacing="-0.35">3</text>
<rect x="225.00" y="518.75" width="51.80" height="15.4" fill="#fff" stroke="#e4e4e4" stroke-width="0.5"/>
<text x="226.00" y="524.75" class="ml">宁夏回族自治区</text>
<text x="225.80" y="531.75" class="ml" letter-spacing="-0.35">2</text>
<rect x="221.90" y="552.50" width="24.10" height="15.4" fill="#fff" stroke="#e4e4e4" stroke-width="0.5"/>
<text x="222.90" y="558.50" class="ml">青海省</text>
<text x="222.70" y="565.50" class="ml" letter-spacing="-0.35">2</text>
<rect x="137.50" y="563.00" width="37.80" height="15.4" fill="#fff" stroke="#e4e4e4" stroke-width="0.5"/>
<text x="138.50" y="569.00" class="ml">西藏自治区</text>
<text x="138.30" y="576.00" class="ml" letter-spacing="-0.35">1</text>
<rect x="315.80" y="460.80" width="44.20" height="15.4" fill="#fff" stroke="#e4e4e4" stroke-width="0.5"/>
<text x="316.80" y="466.80" class="ml">内蒙古自治区</text>
<text x="316.60" y="473.80" class="ml" letter-spacing="-0.35">8</text>
<rect x="413.75" y="432.25" width="31.85" height="15.4" fill="#fff" stroke="#e4e4e4" stroke-width="0.5"/>
<text x="414.75" y="438.25" class="ml">黑龙江省</text>
<text x="414.55" y="445.25" class="ml" letter-spacing="-0.35">4</text>
<rect x="411.90" y="487.50" width="24.35" height="15.4" fill="#fff" stroke="#e4e4e4" stroke-width="0.5"/>
<text x="412.90" y="493.50" class="ml">吉林省</text>
<text x="412.70" y="500.50" class="ml" letter-spacing="-0.35">115</text>
<rect x="388.40" y="507.00" width="24.10" height="15.4" fill="#fff" stroke="#e4e4e4" stroke-width="0.5"/>
<text x="389.40" y="513.00" class="ml">辽宁省</text>
<text x="389.20" y="520.00" class="ml" letter-spacing="-0.35">18</text>
<rect x="320.10" y="494.30" width="24.20" height="15.4" fill="#fff" stroke="#e4e4e4" stroke-width="0.5"/>
<text x="321.10" y="500.30" class="ml">北京市</text>
<text x="320.90" y="507.30" class="ml" letter-spacing="-0.35">291</text>
<rect x="351.80" y="501.80" width="24.30" height="15.4" fill="#fff" stroke="#e4e4e4" stroke-width="0.5"/>
<text x="352.80" y="507.80" class="ml">天津市</text>
<text x="352.60" y="514.80" class="ml" letter-spacing="-0.35">22</text>
<rect x="294.80" y="513.75" width="24.20" height="15.4" fill="#fff" stroke="#e4e4e4" stroke-width="0.5"/>
<text x="295.80" y="519.75" class="ml">山西省</text>
<text x="295.60" y="526.75" class="ml" letter-spacing="-0.35">20</text>
<rect x="310.00" y="534.00" width="24.20" height="15.4" fill="#fff" stroke="#e4e4e4" stroke-width="0.5"/>
<text x="311.00" y="540.00" class="ml">河北省</text>
<text x="310.80" y="547.00" class="ml" letter-spacing="-0.35">62</text>
<rect x="358.20" y="522.50" width="24.10" height="15.4" fill="#fff" stroke="#e4e4e4" stroke-width="0.5"/>
<text x="359.20" y="528.50" class="ml">山东省</text>
<text x="359.00" y="535.50" class="ml" letter-spacing="-0.35">76</text>
<rect x="271.25" y="543.20" width="24.25" height="15.4" fill="#fff" stroke="#e4e4e4" stroke-width="0.5"/>
<text x="272.25" y="549.20" class="ml">陕西省</text>
<text x="272.05" y="556.20" class="ml" letter-spacing="-0.35">44</text>
<rect x="336.25" y="543.75" width="24.45" height="15.4" fill="#fff" stroke="#e4e4e4" stroke-width="0.5"/>
<text x="337.25" y="549.75" class="ml">河南省</text>
<text x="337.05" y="556.75" class="ml" letter-spacing="-0.35">49</text>
<rect x="369.40" y="555.25" width="25.00" height="15.4" fill="#fff" stroke="#e4e4e4" stroke-width="0.5"/>
<text x="370.40" y="561.25" class="ml">江苏省</text>
<text x="370.20" y="568.25" class="ml" letter-spacing="-0.35">172</text>
<rect x="396.90" y="563.75" width="24.35" height="15.4" fill="#fff" stroke="#e4e4e4" stroke-width="0.5"/>
<text x="397.90" y="569.75" class="ml">上海市</text>
<text x="397.70" y="576.75" class="ml" letter-spacing="-0.35">133</text>
<rect x="263.10" y="563.75" width="24.40" height="15.4" fill="#fff" stroke="#e4e4e4" stroke-width="0.5"/>
<text x="264.10" y="569.75" class="ml">四川省</text>
<text x="263.90" y="576.75" class="ml" letter-spacing="-0.35">71</text>
<rect x="296.00" y="562.20" width="24.30" height="15.4" fill="#fff" stroke="#e4e4e4" stroke-width="0.5"/>
<text x="297.00" y="568.20" class="ml">湖北省</text>
<text x="296.80" y="575.20" class="ml" letter-spacing="-0.35">67</text>
<rect x="309.00" y="582.50" width="24.20" height="15.4" fill="#fff" stroke="#e4e4e4" stroke-width="0.5"/>
<text x="310.00" y="588.50" class="ml">安徽省</text>
<text x="309.80" y="595.50" class="ml" letter-spacing="-0.35">51</text>
<rect x="340.00" y="585.30" width="24.30" height="15.4" fill="#fff" stroke="#e4e4e4" stroke-width="0.5"/>
<text x="341.00" y="591.30" class="ml">江西省</text>
<text x="340.80" y="598.30" class="ml" letter-spacing="-0.35">16</text>
<rect x="370.00" y="593.75" width="24.40" height="15.4" fill="#fff" stroke="#e4e4e4" stroke-width="0.5"/>
<text x="371.00" y="599.75" class="ml">浙江省</text>
<text x="370.80" y="606.75" class="ml" letter-spacing="-0.35">241</text>
<rect x="261.50" y="591.00" width="24.50" height="15.4" fill="#fff" stroke="#e4e4e4" stroke-width="0.5"/>
<text x="262.50" y="597.00" class="ml">重庆市</text>
<text x="262.30" y="604.00" class="ml" letter-spacing="-0.35">52</text>
<rect x="225.60" y="606.90" width="24.65" height="15.4" fill="#fff" stroke="#e4e4e4" stroke-width="0.5"/>
<text x="226.60" y="612.90" class="ml">云南省</text>
<text x="226.40" y="619.90" class="ml" letter-spacing="-0.35">55</text>
<rect x="286.00" y="612.50" width="24.25" height="15.4" fill="#fff" stroke="#e4e4e4" stroke-width="0.5"/>
<text x="287.00" y="618.50" class="ml">贵州省</text>
<text x="286.80" y="625.50" class="ml" letter-spacing="-0.35">17</text>
<rect x="317.00" y="607.00" width="24.25" height="15.4" fill="#fff" stroke="#e4e4e4" stroke-width="0.5"/>
<text x="318.00" y="613.00" class="ml">湖南省</text>
<text x="317.80" y="620.00" class="ml" letter-spacing="-0.35">45</text>
<rect x="353.75" y="618.50" width="24.05" height="15.4" fill="#fff" stroke="#e4e4e4" stroke-width="0.5"/>
<text x="354.75" y="624.50" class="ml">福建省</text>
<text x="354.55" y="631.50" class="ml" letter-spacing="-0.35">55</text>
<rect x="242.50" y="631.60" width="51.25" height="15.4" fill="#fff" stroke="#e4e4e4" stroke-width="0.5"/>
<text x="243.50" y="637.60" class="ml">广西壮族自治区</text>
<text x="243.30" y="644.60" class="ml" letter-spacing="-0.35">17</text>
<rect x="298.75" y="635.00" width="24.15" height="15.4" fill="#fff" stroke="#e4e4e4" stroke-width="0.5"/>
<text x="299.75" y="641.00" class="ml">广东省</text>
<text x="299.55" y="648.00" class="ml" letter-spacing="-0.35">248</text>
<rect x="328.10" y="643.10" width="51.65" height="15.4" fill="#fff" stroke="#e4e4e4" stroke-width="0.5"/>
<text x="329.10" y="649.10" class="ml">澳门特别行政区</text>
<text x="328.90" y="656.10" class="ml" letter-spacing="-0.35">1</text>
<rect x="276.60" y="662.50" width="24.40" height="15.4" fill="#fff" stroke="#e4e4e4" stroke-width="0.5"/>
<text x="277.60" y="668.50" class="ml">海南省</text>
<text x="277.40" y="675.50" class="ml" letter-spacing="-0.35">40</text>
</svg>

<div id="c2title" class="abs serif">换电站<i>TOP10</i>省份<span>(单位:座)</span></div>
<!-- CHART2 -->
<svg class="abs" style="left:470px;top:410px" width="490" height="300" viewBox="470 410 490 300">
<line x1="632.9" y1="434.3" x2="632.9" y2="693.5" stroke="#808080" stroke-width="1" stroke-dasharray="6 2 1 2"/>
<line x1="730.4" y1="434.3" x2="730.4" y2="693.5" stroke="#808080" stroke-width="1" stroke-dasharray="6 2 1 2"/>
<line x1="827.9" y1="434.3" x2="827.9" y2="693.5" stroke="#808080" stroke-width="1" stroke-dasharray="6 2 1 2"/>
<line x1="535.4" y1="434.3" x2="876" y2="434.3" stroke="#868686" stroke-width="1"/>
<line x1="535.4" y1="430.3" x2="535.4" y2="693.5" stroke="#868686" stroke-width="1"/>
<line x1="535.4" y1="430.3" x2="535.4" y2="434.3" stroke="#868686" stroke-width="1"/>
<text x="535.4" y="425" font-size="12" text-anchor="middle" letter-spacing="0.3">0</text>
<line x1="632.9" y1="430.3" x2="632.9" y2="434.3" stroke="#868686" stroke-width="1"/>
<text x="632.9" y="425" font-size="12" text-anchor="middle" letter-spacing="0.3">100</text>
<line x1="730.4" y1="430.3" x2="730.4" y2="434.3" stroke="#868686" stroke-width="1"/>
<text x="730.4" y="425" font-size="12" text-anchor="middle" letter-spacing="0.3">200</text>
<line x1="827.9" y1="430.3" x2="827.9" y2="434.3" stroke="#868686" stroke-width="1"/>
<text x="827.9" y="425" font-size="12" text-anchor="middle" letter-spacing="0.3">300</text>
<line x1="530.9" y1="434.3" x2="535.4" y2="434.3" stroke="#868686" stroke-width="1"/>
<line x1="530.9" y1="460.3" x2="535.4" y2="460.3" stroke="#868686" stroke-width="1"/>
<line x1="530.9" y1="486.3" x2="535.4" y2="486.3" stroke="#868686" stroke-width="1"/>
<line x1="530.9" y1="512.3" x2="535.4" y2="512.3" stroke="#868686" stroke-width="1"/>
<line x1="530.9" y1="538.3" x2="535.4" y2="538.3" stroke="#868686" stroke-width="1"/>
<line x1="530.9" y1="564.3" x2="535.4" y2="564.3" stroke="#868686" stroke-width="1"/>
<line x1="530.9" y1="590.3" x2="535.4" y2="590.3" stroke="#868686" stroke-width="1"/>
<line x1="530.9" y1="616.3" x2="535.4" y2="616.3" stroke="#868686" stroke-width="1"/>
<line x1="530.9" y1="642.3" x2="535.4" y2="642.3" stroke="#868686" stroke-width="1"/>
<line x1="530.9" y1="667.8" x2="535.4" y2="667.8" stroke="#868686" stroke-width="1"/>
<line x1="530.9" y1="693.5" x2="535.4" y2="693.5" stroke="#868686" stroke-width="1"/>
<rect x="535.8" y="441.9" width="282.5" height="10.8" fill="#66ccd8"/>
<text x="524.5" y="451.9" font-size="13" text-anchor="end" letter-spacing="0.5">北京市</text>
<text x="826.1" y="451.9" font-size="12.5" letter-spacing="1">291</text>
<rect x="535.8" y="467.9" width="240.6" height="10.8" fill="#66ccd8"/>
<text x="524.5" y="477.9" font-size="13" text-anchor="end" letter-spacing="0.5">广东省</text>
<text x="784.2" y="477.9" font-size="12.5" letter-spacing="1">248</text>
<rect x="535.8" y="493.9" width="233.8" height="10.8" fill="#66ccd8"/>
<text x="524.5" y="503.9" font-size="13" text-anchor="end" letter-spacing="0.5">浙江省</text>
<text x="777.4" y="503.9" font-size="12.5" letter-spacing="1">241</text>
<rect x="535.8" y="519.9" width="166.5" height="10.8" fill="#66ccd8"/>
<text x="524.5" y="529.9" font-size="13" text-anchor="end" letter-spacing="0.5">江苏省</text>
<text x="710.1" y="529.9" font-size="12.5" letter-spacing="1">172</text>
<rect x="535.8" y="545.9" width="128.5" height="9.9" fill="#66ccd8"/>
<text x="524.5" y="555.9" font-size="13" text-anchor="end" letter-spacing="0.5">上海市</text>
<text x="672.1" y="555.9" font-size="12.5" letter-spacing="1">133</text>
<rect x="535.8" y="571.9" width="110.9" height="9.9" fill="#66ccd8"/>
<text x="524.5" y="581.9" font-size="13" text-anchor="end" letter-spacing="0.5">吉林省</text>
<text x="654.5" y="581.9" font-size="12.5" letter-spacing="1">115</text>
<rect x="535.8" y="597.9" width="72.9" height="9.9" fill="#66ccd8"/>
<text x="524.5" y="607.9" font-size="13" text-anchor="end" letter-spacing="0.5">山东省</text>
<text x="616.5" y="607.9" font-size="12.5" letter-spacing="1">76</text>
<rect x="535.8" y="623.9" width="68.0" height="9.9" fill="#66ccd8"/>
<text x="524.5" y="633.9" font-size="13" text-anchor="end" letter-spacing="0.5">四川省</text>
<text x="611.6" y="633.9" font-size="12.5" letter-spacing="1">71</text>
<rect x="535.8" y="649.9" width="64.1" height="9.9" fill="#66ccd8"/>
<text x="524.5" y="659.9" font-size="13" text-anchor="end" letter-spacing="0.5">湖北省</text>
<text x="607.7" y="659.9" font-size="12.5" letter-spacing="1">67</text>
<rect x="535.8" y="675.9" width="59.2" height="9.9" fill="#66ccd8"/>
<text x="524.5" y="685.9" font-size="13" text-anchor="end" letter-spacing="0.5">河北省</text>
<text x="602.9" y="685.9" font-size="12.5" letter-spacing="1">62</text>
</svg>

<svg class="abs" style="left:735px;top:655px" width="50" height="40" viewBox="735 655 50 40">
<g fill="#fff" stroke="#8a8a8a" stroke-width="0.8" stroke-linejoin="round">
<path d="M753.2,659.4c7.6,0 13.8,5.1 13.8,11.5c0,6.4 -6.2,11.5 -13.8,11.5c-1.9,0 -3.7,-0.3 -5.3,-0.9l-5,2.7l1.4,-4.4c-3,-2.1 -4.9,-5.3 -4.9,-8.9c0,-6.4 6.2,-11.5 13.800,-11.5z"/>
<path d="M765.6,669.6c6.8,0 12.300,4.600 12.300,10.300c0,3.100 -1.600,5.800 -4.200,7.700l1.100,3.700l-4.300,-2.200c-1.500,0.500 -3.200,0.800 -4.900,0.800c-6.800,0 -12.300,-4.600 -12.300,-10.300c0,-5.700 5.500,-10 12.300,-10z"/>
<circle cx="748.3" cy="666.6" r="1.3"/><circle cx="758.4" cy="666.6" r="1.3"/>
<circle cx="761.5" cy="676.3" r="1.1"/><circle cx="769.9" cy="676.3" r="1.1"/>
</g>
</svg>

<div id="wm" class="abs sans">中国充电联盟</div>
<div id="pg" class="abs sans">24</div>
</body>
</html>
